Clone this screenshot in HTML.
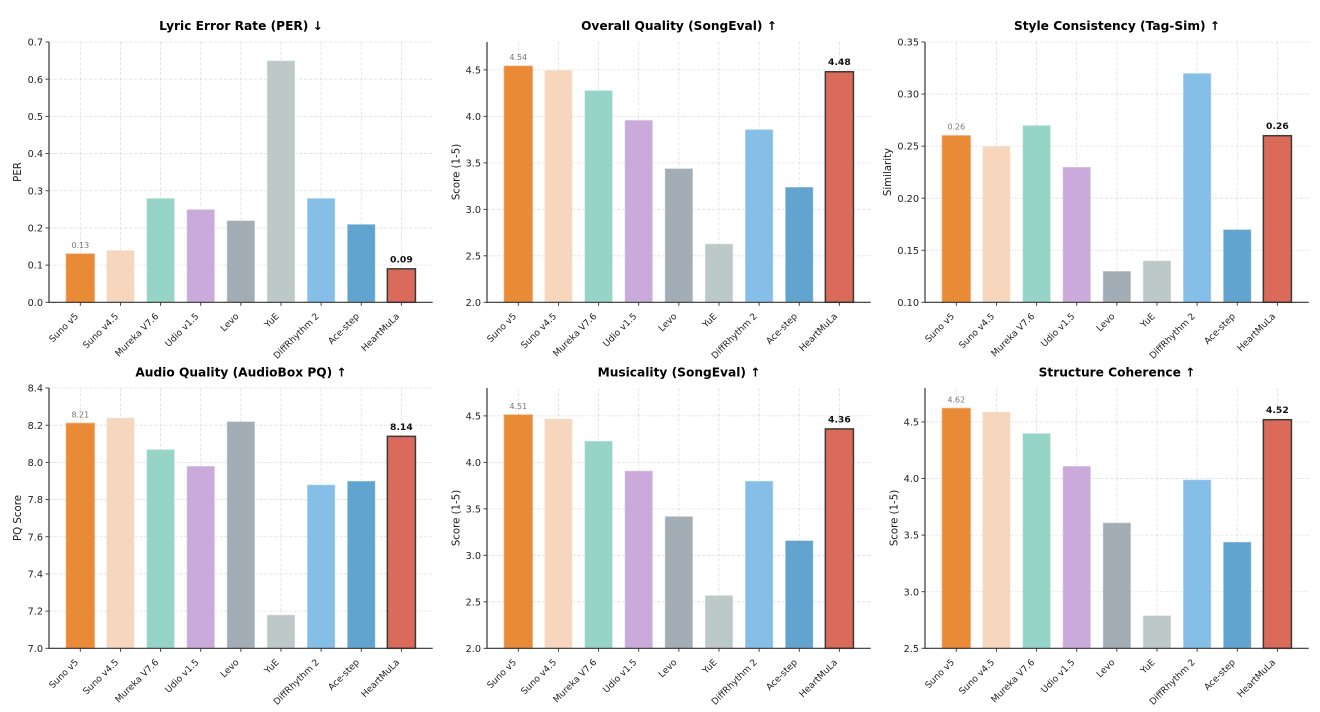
<!DOCTYPE html>
<html lang="en">
<head>
<meta charset="utf-8">
<title>Music Model Comparison Charts</title>
<style>
html,body{margin:0;padding:0;background:#fff;width:1320px;height:712px;overflow:hidden}
svg{display:block;font-family:"DejaVu Sans","Liberation Sans",sans-serif}
.title{font-size:12.2px;font-weight:700;fill:#000;text-anchor:middle}
.ylabel{font-size:10.2px;fill:#1a1a1a;text-anchor:middle}
</style>
</head>
<body>
<svg id="figure" width="1320" height="712" viewBox="0 0 1320 712" xmlns="http://www.w3.org/2000/svg">
  <rect x="0" y="0" width="1320" height="712" fill="#ffffff"/>

  <g id="panel-per"></g>
  <text class="title" x="241" y="30">Lyric Error Rate (PER) ↓</text>
  <text class="ylabel" transform="translate(21,172) rotate(-90)">PER</text>

  <g id="panel-overall"></g>
  <text class="title" x="679" y="30">Overall Quality (SongEval) ↑</text>
  <text class="ylabel" transform="translate(459.500,172) rotate(-90)">Score (1-5)</text>

  <g id="panel-style"></g>
  <text class="title" x="1117" y="30">Style Consistency (Tag-Sim) ↑</text>
  <text class="ylabel" transform="translate(891,172) rotate(-90)">Similarity</text>

  <g id="panel-audio"></g>
  <text class="title" x="241" y="376.500">Audio Quality (AudioBox PQ) ↑</text>
  <text class="ylabel" transform="translate(21,518) rotate(-90)">PQ Score</text>

  <g id="panel-musicality"></g>
  <text class="title" x="679" y="376.500">Musicality (SongEval) ↑</text>
  <text class="ylabel" transform="translate(459.500,518) rotate(-90)">Score (1-5)</text>

  <g id="panel-structure"></g>
  <text class="title" x="1117" y="376.500">Structure Coherence ↑</text>
  <text class="ylabel" transform="translate(897.500,518) rotate(-90)">Score (1-5)</text>
</svg>

<script>
const models = ["Suno v5", "Suno v4.5", "Mureka V7.6", "Udio v1.5", "Levo", "YuE", "DiffRhythm 2", "Ace-step", "HeartMuLa"];

const perValues = [0.13, 0.14, 0.28, 0.25, 0.22, 0.65, 0.28, 0.21, 0.09];
const overallValues = [4.54, 4.50, 4.28, 3.96, 3.44, 2.63, 3.86, 3.24, 4.48];
const styleValues = [0.26, 0.25, 0.27, 0.23, 0.13, 0.14, 0.32, 0.17, 0.26];
const audioValues = [8.21, 8.24, 8.07, 7.98, 8.22, 7.18, 7.88, 7.90, 8.14];
const musicalityValues = [4.51, 4.47, 4.23, 3.91, 3.42, 2.57, 3.80, 3.16, 4.36];
const structureValues = [4.62, 4.59, 4.40, 4.11, 3.61, 2.79, 3.99, 3.44, 4.52];

const perTicks = ["0.0", "0.1", "0.2", "0.3", "0.4", "0.5", "0.6", "0.7"];
const overallTicks = ["2.0", "2.5", "3.0", "3.5", "4.0", "4.5"];
const styleTicks = ["0.10", "0.15", "0.20", "0.25", "0.30", "0.35"];
const audioTicks = ["7.0", "7.2", "7.4", "7.6", "7.8", "8.0", "8.2", "8.4"];
const musicalityTicks = ["2.0", "2.5", "3.0", "3.5", "4.0", "4.5"];
const structureTicks = ["2.5", "3.0", "3.5", "4.0", "4.5"];

const perRange = [0, 0.7];
const overallRange = [2, 4.8];
const styleRange = [0.1, 0.35];
const audioRange = [7, 8.4];
const musicalityRange = [2, 4.8];
const structureRange = [2.5, 4.8];

const barColors = ["#e98a37", "#f6d6bc", "#97d4c8", "#caaada", "#a2adb5", "#bdc8c9", "#85bfe8", "#62a4d0", "#da6b5a"];

const NS = "http://www.w3.org/2000/svg";

function make(tag, attrs, parent) {
  const el = document.createElementNS(NS, tag);
  for (const k in attrs) el.setAttribute(k, attrs[k]);
  parent.appendChild(el);
  return el;
}

function drawPanel(id, slug, left, top, values, ticks, range) {
  const root = document.getElementById(id);
  const width = 383.7, height = 260.3;
  const right = left + width, bottom = top + height;
  const step = width / 9.56;
  const xScale = function (i) { return left + (i + 0.78) * step; };
  const yScale = function (v) { return bottom - (v - range[0]) / (range[1] - range[0]) * height; };
  const barW = step * 0.7;

  // gridlines sit behind the bars
  ticks.forEach(function (t) {
    const y = yScale(parseFloat(t));
    const line = make("line", {x1: left, x2: right, y1: y, y2: y, stroke: "#b8b8b8", "stroke-opacity": 0.42, "stroke-width": 0.8, "stroke-dasharray": "3.4 1.6"}, root);
    
    
  });
  models.forEach(function (m, i) {
    const x = xScale(i);
    const line = make("line", {x1: x, x2: x, y1: top, y2: bottom, stroke: "#b8b8b8", "stroke-opacity": 0.42, "stroke-width": 0.8, "stroke-dasharray": "3.4 1.6"}, root);
    
    
  });

  // bars
  values.forEach(function (v, i) {
    const x = xScale(i), y = yScale(v);
    const isBaseline = i === 0, isHero = i === values.length - 1;
    const stroke = isHero ? "#333333" : (isBaseline ? barColors[0] : "#ffffff");
    const sw = (isHero || isBaseline) ? 1.5 : 1;
    const bar = make("rect", {x: x - barW / 2, y: y, width: barW, height: bottom - y, fill: barColors[i], stroke: stroke, "stroke-width": sw, "stroke-opacity": isHero ? 0.95 : 0.45}, root);
    
    

    if (isBaseline || isHero) {
      const label = make("text", {x: x, y: y - (isHero ? 6.5 : 6), "text-anchor": "middle"}, root);
      label.textContent = v.toFixed(2);
      if (isHero) {
        label.setAttribute("font-size", "9.2");
        label.setAttribute("font-weight", "700");
        label.setAttribute("fill", "#111111");
      } else {
        label.setAttribute("font-size", "7.9");
        label.setAttribute("fill", "#777777");
      }
      
      
    }
  });

  // y ticks
  ticks.forEach(function (t) {
    const y = yScale(parseFloat(t));
    const tick = make("line", {x1: left - 3.5, x2: left, y1: y, y2: y, stroke: "#333333", "stroke-width": 0.9}, root);
    
    
    const label = make("text", {x: left - 6, y: y + 3.6, "text-anchor": "end", "font-size": 9.7, fill: "#222222"}, root);
    label.textContent = t;
    
    
  });

  // x ticks
  models.forEach(function (m, i) {
    const x = xScale(i);
    const tick = make("line", {x1: x, x2: x, y1: bottom, y2: bottom + 3.5, stroke: "#333333", "stroke-width": 0.9}, root);
    
    
    const lx = x - 1.5, ly = bottom + 14.5;
    const label = make("text", {x: lx, y: ly, "text-anchor": "end", "font-size": 9.1, fill: "#222222", transform: "rotate(-45 " + lx + " " + ly + ")"}, root);
    label.textContent = m;
    
    
  });

  // spines
  const spineL = make("line", {x1: left, x2: left, y1: top, y2: bottom + 0.5, stroke: "#444444", "stroke-width": 1.3}, root);
  
  
  const spineB = make("line", {x1: left - 0.5, x2: right, y1: bottom, y2: bottom, stroke: "#333333", "stroke-width": 1.2}, root);
  
  
}

drawPanel("panel-per", "lyric-error-rate", 49, 42, perValues, perTicks, perRange);
drawPanel("panel-overall", "overall-quality", 487, 42, overallValues, overallTicks, overallRange);
drawPanel("panel-style", "style-consistency", 925, 42, styleValues, styleTicks, styleRange);
drawPanel("panel-audio", "audio-quality", 49, 388, audioValues, audioTicks, audioRange);
drawPanel("panel-musicality", "musicality", 487, 388, musicalityValues, musicalityTicks, musicalityRange);
drawPanel("panel-structure", "structure-coherence", 925, 388, structureValues, structureTicks, structureRange);
</script>
</body>
</html>
